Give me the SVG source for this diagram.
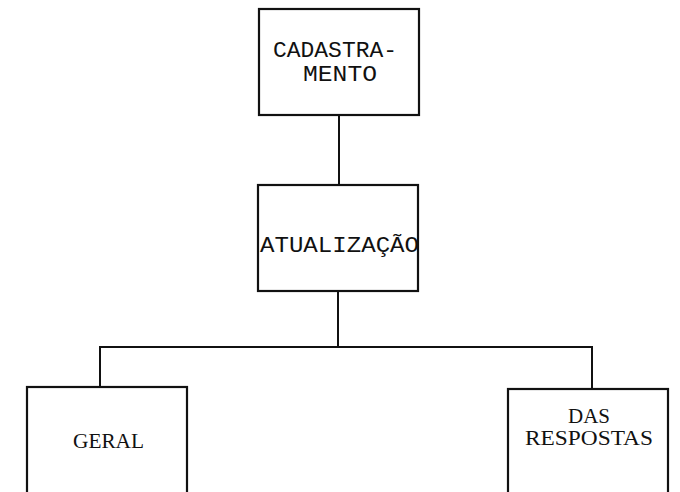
<svg xmlns="http://www.w3.org/2000/svg" width="680" height="492" viewBox="0 0 680 492">
<style>
.box{fill:none;stroke:#111;stroke-width:2.2}
.ln{fill:none;stroke:#111;stroke-width:2}
.mono{font-family:"Liberation Mono","Courier New",monospace;font-size:22px;fill:#111}
.serif{font-family:"Liberation Serif","Times New Roman",serif;font-size:20px;fill:#111}
</style>
<rect width="680" height="492" fill="#fff"/>
<g id="connectors">
<line class="ln" x1="339" y1="115" x2="339" y2="185"/>
<line class="ln" x1="338" y1="291" x2="338" y2="347"/>
<polyline class="ln" points="100,387 100,347 592,347 592,389"/>
</g>
<g id="cadastramento">
<rect class="box" x="259" y="9" width="160" height="106"/>
<text class="mono" x="273" y="57" textLength="124" lengthAdjust="spacingAndGlyphs">CADASTRA-</text>
<text class="mono" x="303" y="81" textLength="74" lengthAdjust="spacingAndGlyphs">MENTO</text>
</g>
<g id="atualizacao">
<rect class="box" x="258" y="185" width="160" height="106"/>
<text class="mono" x="260" y="252" textLength="159" lengthAdjust="spacingAndGlyphs">ATUALIZAÇÃO</text>
</g>
<g id="geral">
<rect class="box" x="27" y="387" width="160" height="110"/>
<text class="serif" x="73" y="448" textLength="71" lengthAdjust="spacingAndGlyphs">GERAL</text>
</g>
<g id="das-respostas">
<rect class="box" x="508" y="389" width="160" height="110"/>
<text class="serif" x="568" y="423" textLength="42" lengthAdjust="spacingAndGlyphs">DAS</text>
<text class="serif" x="525" y="445" textLength="128" lengthAdjust="spacingAndGlyphs">RESPOSTAS</text>
</g>
</svg>
